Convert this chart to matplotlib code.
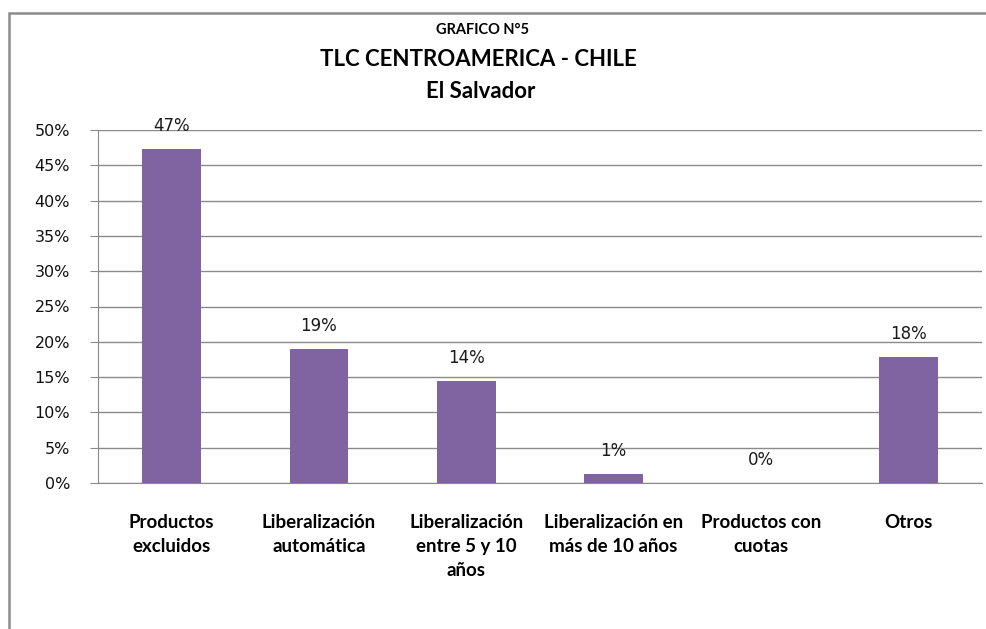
import numpy as np
import matplotlib.pyplot as plt
from matplotlib.patches import Rectangle
from matplotlib.ticker import PercentFormatter

plt.rcParams['font.family'] = ['Lato', 'DejaVu Sans']

# datos del grafico
categorias = ["Productos\nexcluidos", "Liberalización\nautomática",
              "Liberalización\nentre 5 y 10\naños", "Liberalización en\nmás de 10 años",
              "Productos con\ncuotas", "Otros"]
valores = [47.3, 19.0, 14.4, 1.3, 0.0, 17.8]
etiquetas = ["47%", "19%", "14%", "1%", "0%", "18%"]

fig = plt.figure(figsize=(9.86, 6.29), dpi=100)

# marco del area del grafico (cortado a la derecha y abajo)
fig.patches.append(Rectangle((9/986, -0.1), 1.1, (629-13)/629 + 0.1,
                             transform=fig.transFigure, fill=False,
                             edgecolor="#8c8c8c", linewidth=1.8))

ax = fig.add_axes([98/986, 146/629, 884/986, 353/629])
x = np.arange(len(categorias))
ax.bar(x, valores, width=0.4, color="#8064A2", zorder=3)

for xi, v, lab in zip(x, valores, etiquetas):
    ax.annotate(lab, (xi, v), xytext=(0, 23), textcoords="offset pixels",
                ha="center", va="center", fontsize=12, color="#1a1a1a",
                family="DejaVu Sans")

ax.set_xlim(-0.5, len(categorias) - 0.5)
ax.set_ylim(0, 50)
ax.set_yticks(np.arange(0, 51, 5))
ax.yaxis.set_major_formatter(PercentFormatter(decimals=0))
ax.grid(axis="y", color="#8a8a8a", linewidth=1, zorder=0)

ax.set_xticks(x)
ax.set_xticklabels(categorias, fontsize=13.5, fontweight="bold", linespacing=1.5)
ax.tick_params(axis="x", length=0, pad=22)
ax.tick_params(axis="y", length=6, color="#8a8a8a", labelsize=11.5, pad=14)
for t in ax.get_yticklabels():
    t.set_family("DejaVu Sans")
    t.set_color("#111111")

for s in ["top", "right"]:
    ax.spines[s].set_visible(False)
ax.spines["left"].set_color("#8a8a8a")
ax.spines["bottom"].set_color("#8a8a8a")

fig.text(0.489, 1 - 30/629, "GRAFICO N°5", ha="center", va="center",
         fontsize=10.5, fontweight="bold")
fig.text(0.485, 1 - 60/629, "TLC CENTROAMERICA - CHILE", ha="center", va="center",
         fontsize=16, fontweight="bold")
fig.text(0.488, 1 - 91/629, "El Salvador", ha="center", va="center",
         fontsize=16, fontweight="bold")

plt.savefig("out.png", dpi=100)
